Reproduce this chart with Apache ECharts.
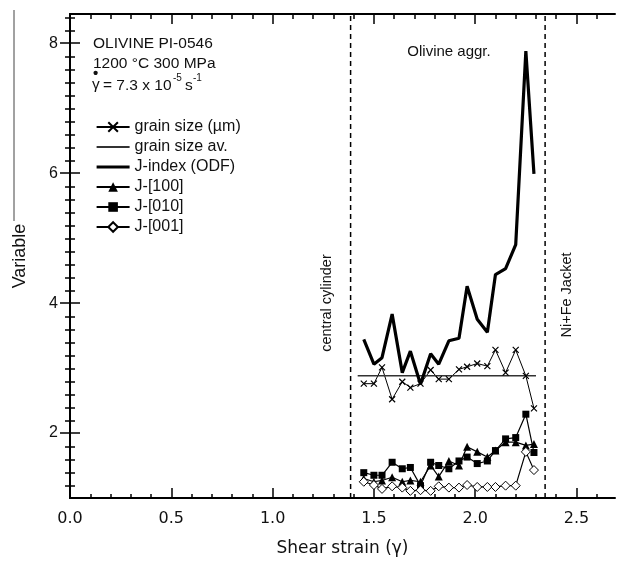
<!DOCTYPE html>
<html><head><meta charset="utf-8">
<script src="https://cdn.jsdelivr.net/npm/echarts@6/dist/echarts.min.js"></script>
<style>html,body{margin:0;padding:0;background:#fff}#c{width:619px;height:562px}</style>
</head><body><div id="c"></div>
<script>
// ---- data ----
const strain = [1.45,1.50,1.54,1.59,1.64,1.68,1.73,1.78,1.82,1.87,1.92,1.96,2.01,2.06,2.10,2.15,2.20,2.25,2.29];
const grainSize = [2.76,2.76,3.01,2.52,2.79,2.70,2.76,2.97,2.83,2.83,2.98,3.02,3.07,3.03,3.28,2.93,3.28,2.88,2.38];
const grainAvStrain = [1.42,2.30];
const grainAv = [2.88,2.88];
const jIndex = [3.44,3.06,3.16,3.83,2.93,3.26,2.75,3.22,3.06,3.42,3.46,4.26,3.75,3.55,4.44,4.53,4.90,7.88,5.99];
const j100 = [1.30,1.25,1.27,1.32,1.25,1.27,1.25,1.50,1.33,1.57,1.50,1.79,1.71,1.63,1.73,1.86,1.86,1.81,1.83];
const j010 = [1.39,1.35,1.35,1.55,1.45,1.47,1.19,1.55,1.50,1.45,1.57,1.63,1.53,1.57,1.73,1.91,1.93,2.29,1.70];
const j001 = [1.25,1.20,1.14,1.18,1.16,1.11,1.12,1.11,1.18,1.16,1.16,1.20,1.17,1.17,1.17,1.19,1.19,1.71,1.43];
const zoneBounds = [1.385,2.345];
const xMajor = [0,0.5,1,1.5,2,2.5];
const xMinor = [0.1,0.2,0.3,0.4,0.6,0.7,0.8,0.9,1.1,1.2,1.3,1.4,1.6,1.7,1.8,1.9,2.1,2.2,2.3,2.4,2.6];
const yMajor = [2,4,6,8];
const yMinor = [1.2,1.4,1.6,1.8,2.2,2.4,2.6,2.8,3,3.2,3.4,3.6,3.8,4.2,4.4,4.6,4.8,5,5.2,5.4,5.6,5.8,6.2,6.4,6.6,6.8,7,7.2,7.4,7.6,7.8,8.2,8.4];
const X_MIN = 0, X_MAX = 2.69, Y_MIN = 1, Y_MAX = 8.45;

const pair = (xs, ys) => xs.map((x, i) => [x, ys[i]]);
const HEL = 'Liberation Sans, Arial, Helvetica, sans-serif';
const LUC = 'DejaVu Sans, Verdana, sans-serif';
const gridRect = {left:70, right:4, top:14, bottom:63};

function xAx(gridIndex, pos, ticks, len, labels, line) {
  return {type:'value', gridIndex, position:pos, min:X_MIN, max:X_MAX,
    axisLine:{show:line, lineStyle:{color:'#000', width:2}},
    axisTick:{show:true, inside:true, length:len, customValues:ticks, lineStyle:{color:'#000', width:1.5}},
    axisLabel:{show:labels, customValues:ticks, margin:13, color:'#111', fontSize:16, fontFamily:LUC,
      formatter:v=>v.toFixed(1)},
    splitLine:{show:false},
    name: labels ? 'Shear strain (\u03b3)' : '', nameLocation:'middle', nameGap:42,
    nameTextStyle:{fontSize:17, fontFamily:LUC, color:'#111'}};
}
function yAx(gridIndex, pos, ticks, len, labels, line) {
  return {type:'value', gridIndex, position:pos, min:Y_MIN, max:Y_MAX,
    axisLine:{show:line, lineStyle:{color:'#000', width:2}},
    axisTick:{show:true, inside:true, length:len, customValues:ticks, lineStyle:{color:'#000', width:1.5}},
    axisLabel:{show:labels, customValues:ticks, margin:12, color:'#111', fontSize:16, fontFamily:HEL,
      formatter:v=>String(Math.round(v))},
    splitLine:{show:false}};
}

const series = [
  {name:'grain size (\u00b5m)', type:'line', xAxisIndex:0, yAxisIndex:0, data:pair(strain, grainSize),
   symbol:'path://M0,0L10,10M10,0L0,10', symbolSize:6,
   lineStyle:{color:'#000', width:1}, itemStyle:{color:'#000', borderColor:'#000', borderWidth:1.2}},
  {name:'grain size av.', type:'line', xAxisIndex:0, yAxisIndex:0, data:pair(grainAvStrain, grainAv),
   symbol:'none', lineStyle:{color:'#333', width:1.5}, itemStyle:{color:'#333'}},
  {name:'J-index (ODF)', type:'line', xAxisIndex:0, yAxisIndex:0, data:pair(strain, jIndex),
   symbol:'none', lineStyle:{color:'#000', width:3.2}, itemStyle:{color:'#000'}},
  {name:'J-[100]', type:'line', xAxisIndex:0, yAxisIndex:0, data:pair(strain, j100),
   symbol:'triangle', symbolSize:8, lineStyle:{color:'#000', width:1.2}, itemStyle:{color:'#000'}},
  {name:'J-[010]', type:'line', xAxisIndex:0, yAxisIndex:0, data:pair(strain, j010),
   symbol:'rect', symbolSize:7, lineStyle:{color:'#000', width:1.2}, itemStyle:{color:'#000'}},
  {name:'J-[001]', type:'line', xAxisIndex:0, yAxisIndex:0, data:pair(strain, j001),
   symbol:'diamond', symbolSize:9, lineStyle:{color:'#000', width:1.2},
   itemStyle:{color:'#fff', borderColor:'#000', borderWidth:1}},
  {name:'bound1', type:'line', xAxisIndex:0, yAxisIndex:0, data:[[zoneBounds[0],Y_MIN],[zoneBounds[0],Y_MAX]],
   symbol:'none', lineStyle:{color:'#000', width:1.5, type:[5,4]}, silent:true},
  {name:'bound2', type:'line', xAxisIndex:0, yAxisIndex:0, data:[[zoneBounds[1],Y_MIN],[zoneBounds[1],Y_MAX]],
   symbol:'none', lineStyle:{color:'#000', width:1.5, type:[5,4]}, silent:true}
];

const chart = echarts.init(document.getElementById('c'), null, {renderer:'canvas'});
chart.setOption({
  backgroundColor:'#fff',
  animation:false,
  grid:[Object.assign({}, gridRect), Object.assign({}, gridRect)],
  xAxis:[xAx(0,'bottom',xMajor,10,true,true), xAx(0,'top',xMajor,10,false,true),
         xAx(1,'bottom',xMinor,5,false,false), xAx(1,'top',xMinor,5,false,false)],
  yAxis:[yAx(0,'left',yMajor,10,true,true), yAx(0,'right',yMajor,10,false,true),
         yAx(1,'left',yMinor,5,false,false), yAx(1,'right',yMinor,5,false,false)],
  legend:{orient:'vertical', left:95, top:119, padding:0, itemWidth:33, itemHeight:12, itemGap:4,
    data:[
      {name:'grain size (\u00b5m)'},
      {name:'grain size av.', itemStyle:{opacity:0}},
      {name:'J-index (ODF)', itemStyle:{opacity:0}, lineStyle:{width:3.2, color:'#000'}},
      {name:'J-[100]'},{name:'J-[010]'},{name:'J-[001]'}],
    textStyle:{fontSize:16, fontFamily:HEL, color:'#111'}, selectedMode:false},
  series,
  graphic:[
    {type:'line', shape:{x1:14, y1:10, x2:14, y2:221}, style:{stroke:'#444', lineWidth:1}},
    {type:'text', left:93, top:36, style:{text:'OLIVINE PI-0546', font:'15.5px '+HEL, fill:'#111'}},
    {type:'text', left:93, top:56, style:{text:'1200 \u00b0C 300 MPa', font:'15.5px '+HEL, fill:'#111'}},
    {type:'text', left:92, top:77, style:{text:'\u03b3', font:'15.5px '+HEL, fill:'#111'}},
    {type:'text', left:93, top:66, style:{text:'\u2022', font:'bold 15px '+HEL, fill:'#111'}},
    {type:'text', left:103, top:78, style:{text:'= 7.3 x 10', font:'15.5px '+HEL, fill:'#111'}},
    {type:'text', left:173, top:73, style:{text:'-5', font:'10px '+HEL, fill:'#111'}},
    {type:'text', left:185, top:78, style:{text:'s', font:'15.5px '+HEL, fill:'#111'}},
    {type:'text', left:193, top:73, style:{text:'-1', font:'10px '+HEL, fill:'#111'}},
    {type:'text', x:449, y:52, style:{text:'Olivine aggr.', font:'15px '+HEL, fill:'#111', textAlign:'center', textVerticalAlign:'middle'}},
    {type:'text', x:327, y:303, rotation:Math.PI/2, style:{text:'central cylinder', font:'14.5px '+HEL, fill:'#111', textAlign:'center', textVerticalAlign:'middle'}},
    {type:'text', x:567, y:295, rotation:Math.PI/2, style:{text:'Ni+Fe Jacket', font:'14.5px '+HEL, fill:'#111', textAlign:'center', textVerticalAlign:'middle'}},
    {type:'text', x:20, y:256, rotation:Math.PI/2, style:{text:'Variable', font:'18px '+HEL, fill:'#111', textAlign:'center', textVerticalAlign:'middle'}}
  ]
});
</script></body></html>
